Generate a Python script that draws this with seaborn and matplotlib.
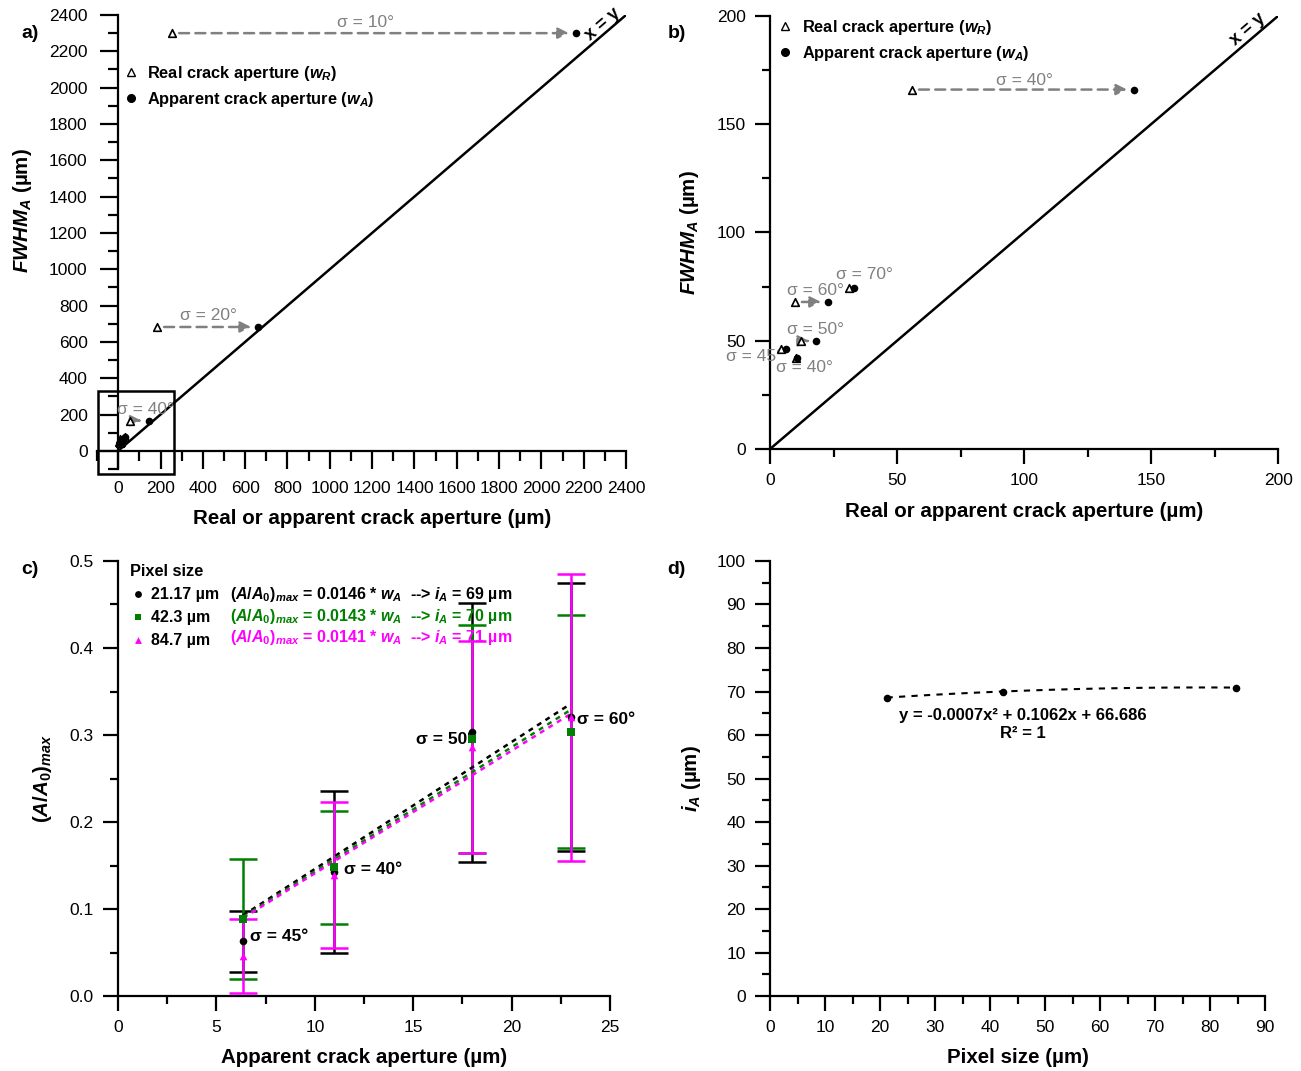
import matplotlib
matplotlib.use('Agg')
import matplotlib.pyplot as plt
import matplotlib.patches as patches
from matplotlib.ticker import MultipleLocator, FormatStrFormatter
from matplotlib.lines import Line2D
import seaborn as sns
import numpy as np
import pandas as pd

sns.set_style('ticks')
plt.rcParams['font.family'] = ['Liberation Sans', 'DejaVu Sans']
plt.rcParams['mathtext.fontset'] = 'custom'
plt.rcParams['mathtext.rm'] = 'Liberation Sans:bold'
plt.rcParams['mathtext.it'] = 'Liberation Sans:italic:bold'
plt.rcParams['mathtext.bf'] = 'Liberation Sans:bold'
plt.rcParams['axes.linewidth'] = 1.6
for k in ['text.color', 'axes.labelcolor', 'xtick.color', 'ytick.color', 'axes.edgecolor']:
    plt.rcParams[k] = 'black'

# Data: panels a) and b) (real vs apparent aperture against FWHM_A)
sigma_ab = ['10°', '20°', '40°', '70°', '60°', '50°', '45°', '40°']
w_real = [255, 184, 55.9, 31.1, 9.8, 12.2, 4.3, 10.2]
w_app = [2163, 661, 143.3, 33.1, 22.8, 18.1, 6.3, 10.6]
fwhm = [2300, 682, 166, 74.4, 67.9, 49.9, 46.0, 42.0]
identity = [0, 2400]

# Data: panel c) (A/A0)max vs apparent aperture for three pixel sizes
w_c = [6.35, 11, 18, 23]
sigma_c = ['45°', '40°', '50°', '60°']
pixel_labels = ['21.17 µm', '42.3 µm', '84.7 µm']
ratio_black = [0.063, 0.143, 0.303, 0.3205]
err_black = [0.035, 0.093, 0.149, 0.154]
ratio_green = [0.088, 0.148, 0.295, 0.304]
err_green = [0.069, 0.065, 0.131, 0.134]
ratio_mag = [0.046, 0.139, 0.2865, 0.3205]
err_mag = [0.042, 0.084, 0.122, 0.165]
slopes = [0.0146, 0.0143, 0.0141]
i_a = [69, 70, 71]

# Data: panel d) i_A vs pixel size
pixel_size = [21.17, 42.3, 84.7]
i_a_fit = [68.6, 70.0, 70.9]

GREY = '#808080'
GREEN = '#008000'
MAG = '#FF00FF'
TICK_FS = 12.5
LABEL_FS = 14.8

fig = plt.figure(figsize=(13.01, 10.71), dpi=100)
ax_a = fig.add_axes([0.0746, 0.5621, 0.4066, 0.4239])
ax_b = fig.add_axes([0.5919, 0.5808, 0.3905, 0.4043])
ax_c = fig.add_axes([0.0907, 0.0700, 0.3782, 0.4062])
ax_d = fig.add_axes([0.5919, 0.0700, 0.3805, 0.4062])

def style_axis(ax):
    for s in ['top', 'right']:
        ax.spines[s].set_visible(False)
    ax.tick_params(which='major', direction='out', length=10.5, width=1.6,
                   labelsize=TICK_FS, pad=7)
    ax.tick_params(which='minor', direction='out', length=5.5, width=1.6)

def arrow(ax, x0, x1, y):
    ax.annotate('', xy=(x1, y), xytext=(x0, y),
                arrowprops=dict(arrowstyle='-|>', linestyle=(0, (4, 2.5)), color=GREY,
                                lw=1.8, mutation_scale=16, shrinkA=5, shrinkB=5))

tri_kw = dict(marker='^', s=30, facecolor='white', edgecolor='black', linewidth=1.2, zorder=4)
dot_kw = dict(marker='o', s=30, color='black', linewidth=0, zorder=5)
h_leg = [Line2D([], [], ls='', marker='^', mfc='white', mec='black', ms=5.5),
         Line2D([], [], ls='', marker='o', color='black', ms=5.5)]
lab_leg = [r'Real crack aperture ($w_R$)', r'Apparent crack aperture ($w_A$)']

# ---------------- panel a
ax = ax_a
style_axis(ax)
ax.set_xlim(-100, 2400)
ax.set_ylim(-100, 2400)
ax.spines['left'].set_position(('data', 0))
ax.spines['bottom'].set_position(('data', 0))
ax.tick_params(which='major', length=13, pad=9)
ax.tick_params(which='minor', length=7)
ax.xaxis.set_minor_locator(MultipleLocator(100))
ax.yaxis.set_minor_locator(MultipleLocator(100))
ax.set_xticks(np.arange(0, 2401, 200))
ax.set_yticks(np.arange(0, 2401, 200))
ax.plot(identity, identity, color='black', lw=1.8, zorder=2)
for xr, xa, y in zip(w_real[:3], w_app[:3], fwhm[:3]):
    arrow(ax, xr, xa, y)
sns.scatterplot(x=w_real, y=fwhm, ax=ax, **tri_kw)
sns.scatterplot(x=w_app, y=fwhm, ax=ax, **dot_kw)
ax.text(1171, 2361, 'σ = 10°', color=GREY, fontsize=12.5, ha='center', va='center')
ax.text(425, 743, 'σ = 20°', color=GREY, fontsize=12.5, ha='center', va='center')
ax.text(128, 226, 'σ = 40°', color=GREY, fontsize=12.5, ha='center', va='center')
ax.text(2290, 2350, 'x = y', fontsize=13, fontweight='bold', rotation=45,
        transform_rotates_text=True, rotation_mode='anchor', ha='center', va='center')
ax.add_patch(patches.Rectangle((-95, -130), 360, 460, fill=False, lw=1.8,
                               edgecolor='black', clip_on=False, zorder=6))
ax.set_xlabel('Real or apparent crack aperture (µm)', fontsize=LABEL_FS, fontweight='bold')
ax.set_ylabel(r'$FWHM_A$ (µm)', fontsize=LABEL_FS, fontweight='bold')
ax.xaxis.set_label_coords(0.52, -0.088)
ax.yaxis.set_label_coords(-0.12, 0.57)
ax.legend(h_leg, lab_leg, loc='upper left', bbox_to_anchor=(0.02, 0.925), frameon=False,
          handletextpad=0.5, prop=dict(weight='bold', size=11.8), labelspacing=0.45,
          handlelength=1)

# ---------------- panel b
ax = ax_b
style_axis(ax)
ax.set_xlim(0, 200)
ax.set_ylim(0, 200)
ax.xaxis.set_major_locator(MultipleLocator(50))
ax.xaxis.set_minor_locator(MultipleLocator(25))
ax.yaxis.set_major_locator(MultipleLocator(50))
ax.yaxis.set_minor_locator(MultipleLocator(25))
ax.plot(identity, identity, color='black', lw=1.8, zorder=2)
for xr, xa, y in zip(w_real[2:6], w_app[2:6], fwhm[2:6]):
    if xa - xr > 4:
        arrow(ax, xr, xa, y)
sns.scatterplot(x=w_real[2:], y=fwhm[2:], ax=ax, **tri_kw)
sns.scatterplot(x=w_app[2:], y=fwhm[2:], ax=ax, **dot_kw)
for (tx, ty), s in zip([(100, 170.4), (37, 80.8), (17.7, 73.4), (17.7, 55), (-6, 42.5), (13.4, 37.4)],
                       sigma_ab[2:]):
    ax.text(tx, ty, 'σ = ' + s, color=GREY, fontsize=12.5, ha='center', va='center', clip_on=False)
ax.text(188, 194, 'x = y', fontsize=13, fontweight='bold', rotation=45,
        transform_rotates_text=True, rotation_mode='anchor', ha='center', va='center')
ax.set_xlabel('Real or apparent crack aperture (µm)', fontsize=LABEL_FS, fontweight='bold')
ax.set_ylabel(r'$FWHM_A$ (µm)', fontsize=LABEL_FS, fontweight='bold')
ax.xaxis.set_label_coords(0.5, -0.122)
ax.yaxis.set_label_coords(-0.135, 0.5)
ax.legend(h_leg, lab_leg, loc='upper left', bbox_to_anchor=(-0.015, 1.03), frameon=False,
          handletextpad=0.5, prop=dict(weight='bold', size=11.8), labelspacing=0.45,
          handlelength=1)

# ---------------- panel c
ax = ax_c
style_axis(ax)
ax.set_xlim(0, 25)
ax.set_ylim(0, 0.5)
ax.xaxis.set_major_locator(MultipleLocator(5))
ax.xaxis.set_minor_locator(MultipleLocator(2.5))
ax.yaxis.set_major_locator(MultipleLocator(0.1))
ax.yaxis.set_minor_locator(MultipleLocator(0.05))
ax.yaxis.set_major_formatter(FormatStrFormatter('%.1f'))
series = [(ratio_black, err_black, 'black', 'o'),
          (ratio_green, err_green, GREEN, 's'),
          (ratio_mag, err_mag, MAG, '^')]
xfit = np.array([w_c[0], w_c[-1]])
for (vals, errs, col, mk), k in zip(series, slopes):
    ax.errorbar(w_c, vals, yerr=errs, fmt='none', ecolor=col, elinewidth=1.8,
                capsize=10, capthick=1.8, zorder=3)
for (vals, errs, col, mk), k in zip(series, slopes):
    ax.plot(xfit, k * xfit, color=col, ls=(0, (2, 2)), lw=1.8, zorder=4)
for (vals, errs, col, mk), lab in zip(series, pixel_labels):
    sns.scatterplot(x=w_c, y=vals, ax=ax, marker=mk, color=col, s=30, linewidth=0,
                    zorder=5, label=lab)
for (tx, ty, ha), s in zip([(6.7, 0.068, 'left'), (11.5, 0.145, 'left'),
                            (18.1, 0.295, 'right'), (23.3, 0.318, 'left')], sigma_c):
    ax.text(tx, ty, 'σ = ' + s, fontsize=12.5, fontweight='bold', ha=ha, va='center')
ax.legend(loc='upper left', bbox_to_anchor=(-0.005, 1.027), frameon=False, title='Pixel size',
          title_fontproperties=dict(weight='bold', size=11.8), prop=dict(weight='bold', size=11.5),
          handletextpad=0.3, labelspacing=0.5, handlelength=1, markerscale=0.9,
          alignment='left')
for yy, col, k, ia in zip([0.922, 0.873, 0.825], ['black', GREEN, MAG], slopes, i_a):
    ax.text(0.2276, yy, r'$\mathit{(A/A_0)_{max}}$ = ' + f'{k}' + r' * $w_A$  --> $i_A$ = '
            + f'{ia} µm', transform=ax.transAxes, color=col, fontsize=11.5,
            fontweight='bold', va='center', ha='left')
ax.set_xlabel('Apparent crack aperture (µm)', fontsize=LABEL_FS, fontweight='bold')
ax.set_ylabel(r'$\mathit{(A/A_0)_{max}}$', fontsize=LABEL_FS, fontweight='bold')
ax.xaxis.set_label_coords(0.5, -0.12)
ax.yaxis.set_label_coords(-0.13, 0.5)

# ---------------- panel d
ax = ax_d
style_axis(ax)
ax.set_xlim(0, 90)
ax.set_ylim(0, 100)
ax.xaxis.set_major_locator(MultipleLocator(10))
ax.xaxis.set_minor_locator(MultipleLocator(5))
ax.yaxis.set_major_locator(MultipleLocator(10))
ax.yaxis.set_minor_locator(MultipleLocator(5))
coef = np.polyfit(pixel_size, i_a_fit, 2)
xs = np.linspace(pixel_size[0], pixel_size[-1], 100)
ax.plot(xs, np.polyval(coef, xs), color='black', ls=(0, (3, 3)), lw=1.5, zorder=3)
sns.scatterplot(x=pixel_size, y=i_a_fit, ax=ax, color='black', s=30, linewidth=0, zorder=4)
ax.text(46, 64.5, 'y = -0.0007x² + 0.1062x + 66.686', fontsize=12, fontweight='bold',
        ha='center', va='center')
ax.text(46, 60.4, 'R² = 1', fontsize=12, fontweight='bold', ha='center', va='center')
ax.set_xlabel('Pixel size (µm)', fontsize=LABEL_FS, fontweight='bold')
ax.set_ylabel(r'$i_A$ (µm)', fontsize=LABEL_FS, fontweight='bold')
ax.xaxis.set_label_coords(0.5, -0.12)
ax.yaxis.set_label_coords(-0.135, 0.5)

# panel letters
for (px, py), t in zip([(0.023, 0.969), (0.52, 0.969), (0.023, 0.468), (0.52, 0.468)],
                       ['a)', 'b)', 'c)', 'd)']):
    fig.text(px, py, t, fontsize=14, fontweight='bold', ha='center', va='center')

fig.savefig('out.png', dpi=100)
